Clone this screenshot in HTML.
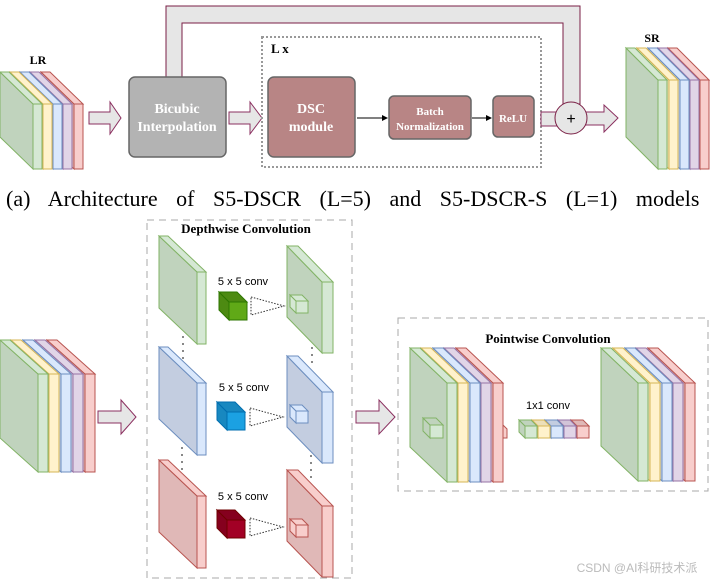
<!DOCTYPE html>
<html><head><meta charset="utf-8"><style>
html,body{margin:0;padding:0;background:#fff;}
svg{display:block;}
.t{font-family:"Liberation Serif",serif;font-weight:bold;}
.s{font-family:"Liberation Sans",sans-serif;}
</style></head><body>
<svg id="g" width="710" height="582" viewBox="0 0 710 582" xmlns="http://www.w3.org/2000/svg">
<g id="shapes"></g>
<path d="M166,77 L166,6 L580,6 L580,104 L563,104 L563,23 L182,23 L182,77 Z" fill="#e6e6e6" stroke="#7a1f45" stroke-width="1"/>
<path d="M89,112 L110,112 L110,102 L121,118 L110,134 L110,124 L89,124 Z" fill="#e6e6e6" stroke="#8b3060"/>
<rect x="129" y="77" width="97" height="80" rx="6" fill="#b3b3b3" stroke="#666" stroke-width="1.5"/>
<text class="t" x="177" y="113" font-size="14" fill="#fff" text-anchor="middle">Bicubic</text>
<text class="t" x="177" y="131" font-size="14" fill="#fff" text-anchor="middle">Interpolation</text>
<path d="M229,112 L250,112 L250,102 L262,118 L250,134 L250,124 L229,124 Z" fill="#e6e6e6" stroke="#8b3060"/>
<rect x="262" y="37" width="279" height="130" fill="none" stroke="#999" stroke-width="2" stroke-dasharray="2,2"/>
<text class="t" x="271" y="53" font-size="13" fill="#000">L x</text>
<rect x="268" y="77" width="87" height="80" rx="6" fill="#b88585" stroke="#666" stroke-width="1.5"/>
<text class="t" x="311" y="113" font-size="14" fill="#fff" text-anchor="middle">DSC</text>
<text class="t" x="311" y="131" font-size="14" fill="#fff" text-anchor="middle">module</text>
<line x1="357" y1="118" x2="384" y2="118" stroke="#000"/><path d="M388,118 L382,115 L382,121 Z"/>
<rect x="389" y="96" width="82" height="43" rx="5" fill="#b88585" stroke="#666" stroke-width="1.5"/>
<text class="t" x="430" y="115" font-size="11" fill="#fff" text-anchor="middle">Batch</text>
<text class="t" x="430" y="130" font-size="11" fill="#fff" text-anchor="middle">Normalization</text>
<line x1="472" y1="118" x2="488" y2="118" stroke="#000"/><path d="M492,118 L486,115 L486,121 Z"/>
<rect x="493" y="96" width="41" height="41" rx="5" fill="#b88585" stroke="#666" stroke-width="1.5"/>
<text class="t" x="513" y="122" font-size="11" fill="#fff" text-anchor="middle">ReLU</text>
<rect x="541" y="112" width="20" height="14" fill="#e6e6e6" stroke="#8b3060"/>
<path d="M585,112 L604,112 L604,105 L618,118 L604,132 L604,125 L585,125 Z" fill="#e6e6e6" stroke="#8b3060"/>
<circle cx="571" cy="118" r="16" fill="#e6e6e6" stroke="#7a1f45"/>
<text class="s" x="571" y="124" font-size="16" text-anchor="middle">+</text>
<text class="t" x="38" y="64" font-size="12" text-anchor="middle">LR</text>
<text class="t" x="652" y="42" font-size="12" text-anchor="middle">SR</text>
<text x="6" y="206" font-family="Liberation Serif,serif" font-size="22" word-spacing="13">(a) Architecture of S5-DSCR (L=5) and S5-DSCR-S (L=1) models</text>
<rect x="147" y="220" width="205" height="358" fill="none" stroke="#aaa" stroke-dasharray="7,5"/>
<text class="t" x="246" y="233" font-size="13" text-anchor="middle">Depthwise Convolution</text>
<path d="M98,411 L121,411 L121,400 L136,417 L121,434 L121,423 L98,423 Z" fill="#e6e6e6" stroke="#8b3060"/>
<path d="M356,411 L379,411 L379,400 L395,417 L379,434 L379,423 L356,423 Z" fill="#e6e6e6" stroke="#8b3060"/>
<text class="s" x="243" y="285" font-size="11" text-anchor="middle">5 x 5 conv</text>
<text class="s" x="244" y="391" font-size="11" text-anchor="middle">5 x 5 conv</text>
<text class="s" x="243" y="500" font-size="11" text-anchor="middle">5 x 5 conv</text>
<rect x="398" y="318" width="310" height="173" fill="none" stroke="#aaa" stroke-dasharray="7,5"/>
<text class="t" x="548" y="343" font-size="13" text-anchor="middle">Pointwise  Convolution</text>
<text class="s" x="548" y="409" font-size="11" text-anchor="middle">1x1 conv</text>
<text x="637" y="572" font-family="Liberation Sans,'Noto Sans CJK SC',sans-serif" font-size="12" fill="#bbb" text-anchor="middle">CSDN @AI科研技术派</text>
</svg>
<script>
var NS="http://www.w3.org/2000/svg",G=document.getElementById("shapes");
function P(pts,fill,stroke,extra){var e=document.createElementNS(NS,"polygon");e.setAttribute("points",pts.map(function(p){return p.join(",")}).join(" "));e.setAttribute("fill",fill);e.setAttribute("stroke",stroke);e.setAttribute("stroke-width","1");if(extra)for(var k in extra)e.setAttribute(k,extra[k]);G.appendChild(e);}
var C={g:["#d5e8d4","#82b366","#c0d3bd"],y:["#fff2cc","#d6b656","#ecdfb8"],b:["#dae8fc","#6c8ebf","#c3cde0"],p:["#e1d5e7","#9673a6","#d2c4d8"],r:["#f8cecc","#b85450","#e0b8b7"]};
function slab(x,y,w,h,dx,dy,c){var c0=C[c];
P([[x-dx,y-dy],[x,y],[x,y+h],[x-dx,y+h-dy]],c0[2],c0[1]);
P([[x-dx,y-dy],[x+w-dx,y-dy],[x+w,y],[x,y]],c0[0],c0[1]);
P([[x,y],[x+w,y],[x+w,y+h],[x,y+h]],c0[0],c0[1]);}
function stack(fr,y,w,h,dx,dy){var cs=["g","y","b","p","r"];for(var i=4;i>=0;i--)slab(fr[i],y,w,h,dx,dy,cs[i]);}
function cubeL(x,y,s,d,f,side,st){
P([[x,y],[x-d,y-d],[x-d,y+s-d],[x,y+s]],side,st);P([[x-d,y-d],[x+s-d,y-d],[x+s,y],[x,y]],side,st);P([[x,y],[x+s,y],[x+s,y+s],[x,y+s]],f,st);}
stack([33,43,53,63,74],104,9,65,33,32);
stack([658,669,680,690,700],80,9,89,32,32);
stack([38,49,61,73,85],374,10,98,38,34);
stack([447,458,470,481,493],383,10,99,37,35);
stack([638,650,662,673,685],383,10,98,37,35);
slab(197,272,9,72,38,36,"g");slab(197,383,9,72,38,36,"b");slab(197,496,9,72,38,36,"r");
slab(322,282,11,71,35,36,"g");slab(322,392,11,71,35,36,"b");slab(322,506,11,71,35,36,"r");
cubeL(229,302,18,10,"#60a917","#4d8a12","#2d7600");
cubeL(227,412,18,10,"#1ba1e2","#1888c0","#006eaf");
cubeL(227,520,18,10,"#a20025","#85001e","#6f0000");
cubeL(296,301,12,6,"#d5e8d4","#d5e8d4","#82b366");
cubeL(296,411,12,6,"#dae8fc","#dae8fc","#6c8ebf");
cubeL(296,525,12,6,"#f8cecc","#f8cecc","#b85450");
cubeL(430,425,13,7,"#d5e8d4","#c0d3bd","#82b366");
P([[503,425],[507,429],[507,438],[503,438]],"#f8cecc","#b85450");
var cs=["g","y","b","p","r"];for(var i=4;i>=0;i--){var c=C[cs[i]];cubeL(525+i*13,426,12,6,c[0],c[2],c[1]);}
[[251,306],[250,417],[250,527]].forEach(function(t){P([[t[0],t[1]-9],[t[0]+33,t[1]],[t[0],t[1]+9]],"#fff","#333",{"stroke-dasharray":"1.5,1.5"});});
function dots(x,y1,y2){for(var y=y1;y<=y2;y+=7){var c=document.createElementNS(NS,"circle");c.setAttribute("cx",x);c.setAttribute("cy",y);c.setAttribute("r","0.9");c.setAttribute("fill","#333");G.appendChild(c);}}
dots(183,337,358);dots(182,448,470);dots(312,348,368);dots(311,456,478);
</script>
</body></html>
